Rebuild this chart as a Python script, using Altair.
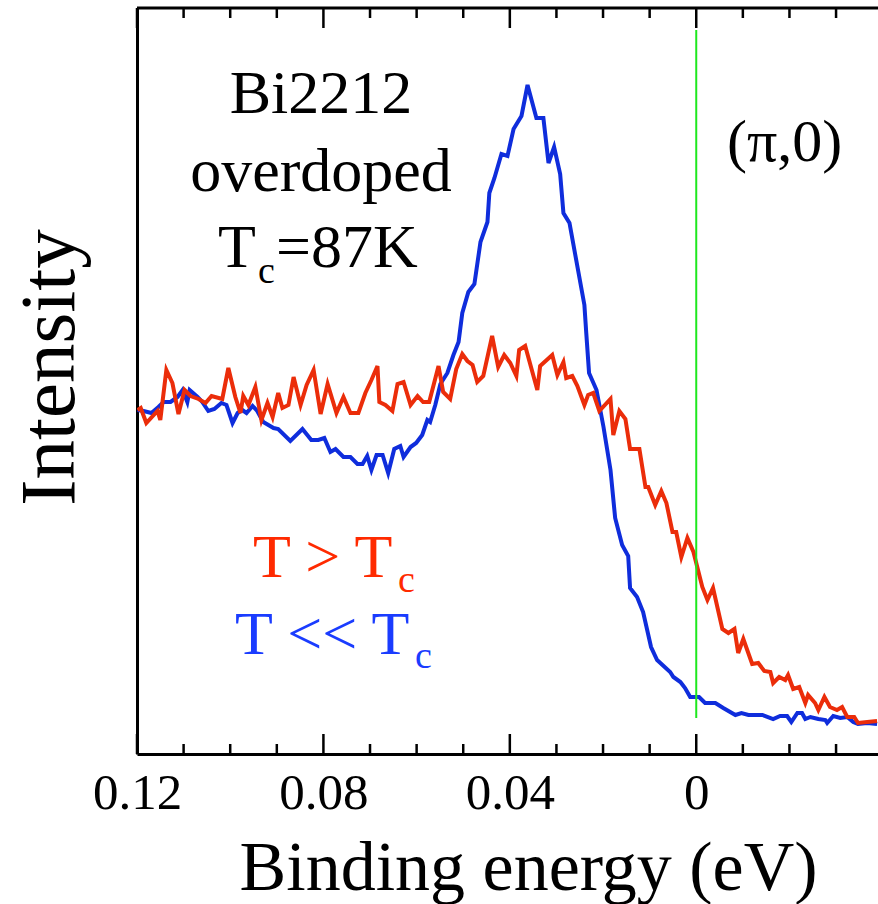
import altair as alt
import pandas as pd

# ---- data (binding energy in eV, intensity in arbitrary units) ----
red_energy = [0.1199, 0.1192, 0.1180, 0.1156, 0.1150, 0.1137, 0.1124, 0.1111, 0.1098, 0.1085,
              0.1068, 0.1053, 0.1040, 0.1017, 0.1004, 0.0989, 0.0978, 0.0972, 0.0961, 0.0946,
              0.0933, 0.0920, 0.0909, 0.0897, 0.0888, 0.0875, 0.0864, 0.0849, 0.0836, 0.0821,
              0.0806, 0.0791, 0.0772, 0.0757, 0.0742, 0.0725, 0.0710, 0.0697, 0.0684, 0.0680,
              0.0667, 0.0652, 0.0641, 0.0628, 0.0613, 0.0598, 0.0586, 0.0573, 0.0553, 0.0543,
              0.0528, 0.0515, 0.0502, 0.0491, 0.0480, 0.0470, 0.0457, 0.0438, 0.0425, 0.0412,
              0.0399, 0.0386, 0.0380, 0.0367, 0.0341, 0.0335, 0.0309, 0.0298, 0.0285, 0.0279,
              0.0266, 0.0255, 0.0240, 0.0232, 0.0221, 0.0208, 0.0184, 0.0178, 0.0165, 0.0152,
              0.0142, 0.0122, 0.0109, 0.0103, 0.0088, 0.0075, 0.0064, 0.0051, 0.0043, 0.0032,
              0.0019, 0.0006, -0.0013, -0.0024, -0.0036, -0.0056, -0.0069, -0.0082, -0.0090, -0.0101,
              -0.0120, -0.0133, -0.0146, -0.0159, -0.0165, -0.0178, -0.0191, -0.0197, -0.0208, -0.0221,
              -0.0234, -0.0240, -0.0255, -0.0262, -0.0275, -0.0287, -0.0302, -0.0313, -0.0324, -0.0339,
              -0.0347, -0.0367, -0.0388]
red_intensity = [344, 346, 331, 343, 334, 384, 371, 340, 364, 358,
                 355, 351, 358, 355, 386, 357, 341, 358, 349, 367,
                 334, 351, 337, 361, 346, 349, 377, 349, 369, 384,
                 340, 370, 341, 357, 341, 341, 361, 374, 388, 352,
                 349, 343, 370, 372, 349, 358, 352, 352, 388, 362,
                 355, 385, 400, 393, 389, 372, 378, 418, 387, 399,
                 391, 378, 404, 408, 364, 388, 399, 379, 392, 376,
                 378, 368, 349, 359, 361, 343, 355, 319, 343, 335,
                 305, 305, 267, 267, 249, 263, 251, 222, 222, 197,
                 216, 202, 167, 154, 166, 125, 121, 125, 101, 115,
                 90, 91, 83, 82, 71, 77, 74, 79, 65, 67,
                 51, 59, 51, 44, 57, 47, 44, 47, 37, 37,
                 31, 32, 33]

blue_energy = [0.1199, 0.1186, 0.1169, 0.1154, 0.1143, 0.1128, 0.1113, 0.1102, 0.1092, 0.1087,
               0.1070, 0.1060, 0.1047, 0.1034, 0.1019, 0.1008, 0.0995, 0.0984, 0.0974, 0.0965,
               0.0952, 0.0942, 0.0929, 0.0907, 0.0897, 0.0871, 0.0845, 0.0826, 0.0811, 0.0798,
               0.0785, 0.0774, 0.0757, 0.0742, 0.0727, 0.0716, 0.0706, 0.0697, 0.0686, 0.0673,
               0.0661, 0.0648, 0.0635, 0.0628, 0.0613, 0.0601, 0.0588, 0.0577, 0.0571, 0.0560,
               0.0549, 0.0534, 0.0521, 0.0510, 0.0502, 0.0489, 0.0476, 0.0463, 0.0448, 0.0444,
               0.0433, 0.0418, 0.0405, 0.0392, 0.0375, 0.0362, 0.0343, 0.0328, 0.0317, 0.0305,
               0.0292, 0.0285, 0.0272, 0.0240, 0.0236, 0.0230, 0.0214, 0.0199, 0.0184, 0.0174,
               0.0159, 0.0146, 0.0142, 0.0127, 0.0114, 0.0097, 0.0084, 0.0056, 0.0049, 0.0034,
               0.0024, 0.0013, -0.0006, -0.0019, -0.0041, -0.0058, -0.0084, -0.0097, -0.0112, -0.0142,
               -0.0165, -0.0180, -0.0195, -0.0204, -0.0217, -0.0227, -0.0234, -0.0245, -0.0262, -0.0277,
               -0.0281, -0.0294, -0.0309, -0.0324, -0.0337, -0.0347, -0.0367, -0.0388]
blue_intensity = [344, 343, 341, 347, 352, 352, 357, 364, 352, 364,
                  357, 352, 343, 345, 351, 349, 331, 341, 344, 341,
                  348, 343, 332, 326, 325, 313, 325, 314, 314, 316,
                  302, 305, 297, 297, 290, 290, 298, 284, 299, 299,
                  281, 305, 308, 297, 307, 311, 319, 334, 332, 349,
                  370, 381, 399, 412, 441, 462, 470, 512, 532, 561,
                  576, 600, 598, 625, 638, 669, 636, 636, 591, 607,
                  580, 541, 531, 449, 421, 381, 364, 327, 284, 236,
                  209, 198, 166, 157, 142, 107, 94, 82, 77, 72,
                  66, 57, 57, 51, 51, 46, 39, 41, 39, 39,
                  35, 38, 38, 32, 41, 41, 35, 37, 35, 34,
                  31, 38, 36, 37, 32, 30, 31, 30]

major_ticks = [0.12, 0.08, 0.04, 0.0]
minor_ticks = [0.11, 0.10, 0.09, 0.07, 0.06, 0.05, 0.03, 0.02, 0.01, -0.01, -0.02, -0.03]
fermi_level = [0.0]
fermi_span = [724, 36]

RED = "#eb2d0a"
BLUE = "#0f2ddc"
GREEN = "#1ee81e"
FONT = "Liberation Serif"
W, H = 741, 746

red_df = pd.DataFrame({"energy": red_energy, "intensity": red_intensity})
blue_df = pd.DataFrame({"energy": blue_energy, "intensity": blue_intensity})
major_df = pd.DataFrame({"energy": major_ticks})
minor_df = pd.DataFrame({"energy": minor_ticks})
fermi_df = pd.DataFrame({"energy": fermi_level, "y1": [fermi_span[0]], "y2": [fermi_span[1]]})

xscale = alt.Scale(domain=[-0.039, 0.12], reverse=True, nice=False, zero=False)
yscale = alt.Scale(domain=[0, H], nice=False, zero=False)

xaxis = alt.Axis(
    values=major_ticks, format=".2~f", ticks=False, grid=False,
    domainColor="black", domainWidth=3,
    labelFont=FONT, labelFontSize=51, labelColor="black",
    labelBaseline="alphabetic", labelPadding=54, labelFlush=False,
    title="Binding energy (eV)", titleFont=FONT, titleFontSize=70,
    titleFontWeight="normal", titleColor="black",
    titleX=391, titleY=135, titleBaseline="alphabetic", titleAlign="center",
)
yaxis = alt.Axis(
    ticks=False, labels=False, grid=False,
    domainColor="black", domainWidth=3,
    title="Intensity", titleFont=FONT, titleFontSize=79, titleFontWeight="normal",
    titleColor="black", titleAngle=270, titleX=-64, titleY=359,
    titleBaseline="alphabetic", titleAlign="center",
)

blue_line = alt.Chart(blue_df).mark_line(color=BLUE, strokeWidth=4, clip=True).encode(
    x=alt.X("energy:Q", scale=xscale, axis=xaxis),
    y=alt.Y("intensity:Q", scale=yscale, axis=yaxis),
)
red_line = alt.Chart(red_df).mark_line(color=RED, strokeWidth=4, clip=True).encode(
    x=alt.X("energy:Q"),
    y=alt.Y("intensity:Q"),
)
fermi = alt.Chart(fermi_df).mark_rule(color=GREEN, strokeWidth=2).encode(
    x="energy:Q", y="y1:Q", y2="y2:Q"
)

def ticks(df, length):
    bottom = alt.Chart(df).mark_rule(color="black", strokeWidth=2.5).encode(
        x="energy:Q", y=alt.value(H), y2=alt.value(H - length))
    top = alt.Chart(df).mark_rule(color="black", strokeWidth=2.5).encode(
        x="energy:Q", y=alt.value(0), y2=alt.value(length))
    return [bottom, top]

top_line = alt.Chart(alt.Data(values=[{}])).mark_rule(color="black", strokeWidth=3).encode(
    x=alt.value(0), x2=alt.value(W), y=alt.value(0))

def label(text, x, y, size=62, color="black", align="left"):
    return alt.Chart(alt.Data(values=[{}])).mark_text(
        text=text, font=FONT, fontSize=size, color=color, align=align,
        baseline="alphabetic",
    ).encode(x=alt.value(x), y=alt.value(y))

texts = [
    label("Bi2212", 184, 105, align="center"),
    label("overdoped", 184, 183, align="center"),
    label("T", 81, 259),
    label("c", 121, 275, size=38),
    label("=87K", 139, 259),
    label("(π,0)", 590, 153, size=60),
    label("T > T", 116, 569, color="#ff2a00"),
    label("c", 261, 584, size=38, color="#ff2a00"),
    label("T << T", 98, 646, color="#1a3cff"),
    label("c", 278, 660, size=38, color="#1a3cff"),
]

layers = [blue_line, red_line, fermi, top_line] + ticks(major_df, 20) + ticks(minor_df, 10) + texts

chart = alt.layer(*layers).properties(
    width=W, height=H,
    autosize=alt.AutoSizeParams(type="none"),
    padding={"left": 137, "top": 8, "right": 0, "bottom": 150},
    background="white",
).configure_view(strokeOpacity=0)

chart.save("out.html", embed_options={"renderer": "svg", "actions": False})
